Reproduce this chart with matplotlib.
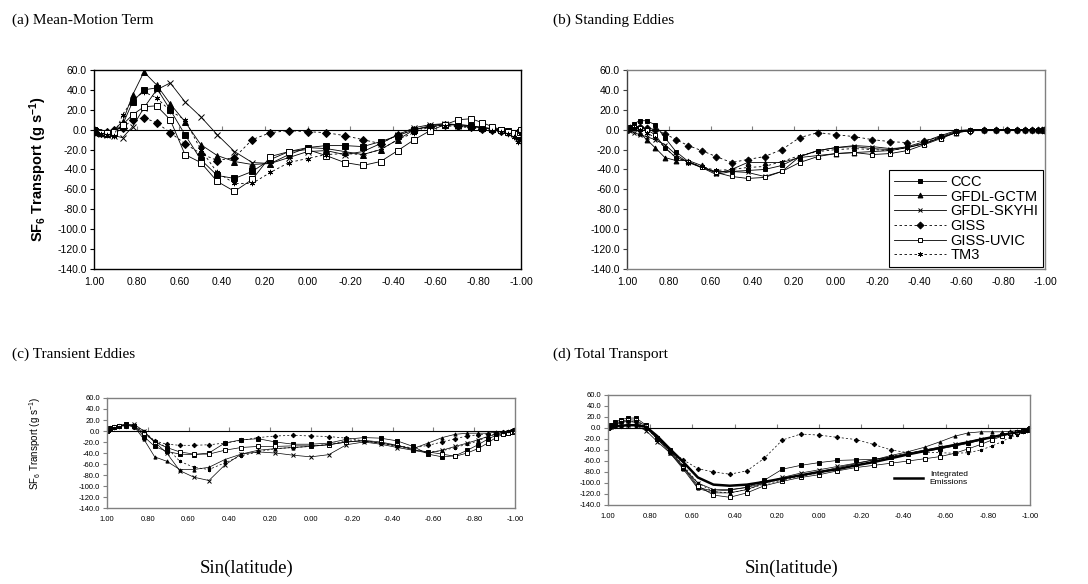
import matplotlib.pyplot as plt

plt.rcParams['font.family'] = ['Liberation Sans', 'DejaVu Sans']
plt.rcParams['axes.unicode_minus'] = False
plt.rcParams['mathtext.default'] = 'regular'

# sin(latitude) grid, 5 degree steps from north pole to south pole
xs = [1.000, 0.996, 0.985, 0.966, 0.940, 0.906, 0.866, 0.819, 0.766, 0.707, 0.643, 0.574,
      0.500, 0.423, 0.342, 0.259, 0.174, 0.087, 0.000, -0.087, -0.174, -0.259, -0.342,
      -0.423, -0.500, -0.574, -0.643, -0.707, -0.766, -0.819, -0.866, -0.906, -0.940,
      -0.966, -0.985, -0.996, -1.000]
xticks = [1.0, 0.8, 0.6, 0.4, 0.2, 0.0, -0.2, -0.4, -0.6, -0.8, -1.0]
yticks = [60, 40, 20, 0, -20, -40, -60, -80, -100, -120, -140]

models = ["CCC", "GFDL-GCTM", "GFDL-SKYHI", "GISS", "GISS-UVIC", "TM3"]

# (a) mean-motion term
ccc_a = [0, -1, -2, -3, -4, -3, 5, 28, 40, 42, 20, -5, -30, -46, -49, -42, -30, -22, -18, -16,
         -16, -17, -12, -6, 0, 3, 5, 5, 4, 2, 1, 0, -1, -3, -5, -3, -1]
gctm_a = [0, -1, -2, -3, -3, 0, 8, 35, 58, 45, 26, 8, -15, -26, -32, -35, -34, -25, -18, -19,
          -22, -25, -20, -10, 0, 4, 6, 5, 4, 2, 1, 0, -1, -3, -6, -4, -1]
skyhi_a = [0, -1, -3, -4, -5, -6, -8, 3, 22, 40, 47, 28, 13, -5, -22, -33, -34, -28, -22, -21,
           -25, -22, -14, -5, 2, 5, 6, 4, 3, 2, 1, 0, -2, -4, -8, -5, -1]
giss_a = [0, -1, -2, -3, -2, 0, 2, 10, 12, 7, -3, -14, -24, -31, -28, -10, -3, -1, -2, -3,
          -6, -10, -14, -5, 0, 3, 5, 4, 3, 1, 0, -1, -2, -4, -6, -4, -1]
uvic_a = [0, -1, -2, -3, -3, -2, 5, 15, 23, 24, 10, -25, -33, -52, -62, -50, -27, -22, -20, -26,
          -33, -36, -32, -21, -10, -1, 5, 10, 11, 7, 3, 0, -2, -3, -4, -2, 0]
tm3_a = [0, -1, -3, -4, -5, -6, 15, 30, 38, 32, 19, 10, -20, -43, -54, -54, -43, -33, -29, -25,
         -24, -25, -20, -10, -3, 3, 4, 3, 2, 0, -1, -2, -4, -7, -12, -9, -3]

# (b) standing eddies
ccc_b = [0, 1, 3, 6, 9, 9, 5, -8, -22, -32, -38, -42, -42, -41, -40, -36, -27, -21, -18, -17,
         -19, -20, -17, -12, -6, -1, 0, 0, 0, 0, 0, 0, 0, 0, 0, 0, 0]
gctm_b = [0, 2, 3, 2, -3, -10, -18, -28, -31, -31, -36, -44, -40, -33, -33, -33, -28, -26, -24, -23,
          -22, -21, -18, -14, -8, -3, 0, 0, 0, 0, 0, 0, 0, 0, 0, 0, 0]
skyhi_b = [0, 0, -1, -3, -5, -7, -10, -15, -25, -33, -38, -45, -42, -43, -47, -42, -27, -21, -18, -16,
           -17, -19, -18, -14, -8, -3, -1, 0, 0, 0, 0, 0, 0, 0, 0, 0, 0]
giss_b = [0, 1, 2, 3, 3, 2, 0, -4, -10, -16, -21, -27, -33, -30, -27, -20, -8, -3, -5, -7,
          -10, -12, -13, -11, -7, -2, -1, 0, 0, 0, 0, 0, 0, 0, 0, 0, 0]
uvic_b = [0, 1, 2, 3, 2, 0, -5, -18, -28, -32, -38, -43, -47, -49, -48, -42, -33, -27, -24, -23,
          -25, -24, -21, -15, -9, -3, -1, 0, 0, 0, 0, 0, 0, 0, 0, 0, 0]
tm3_b = [0, 1, 2, 2, 0, -3, -8, -18, -28, -33, -37, -41, -40, -38, -37, -32, -26, -22, -20, -19,
         -20, -21, -18, -13, -7, -2, 0, 0, 0, 0, 0, 0, 0, 0, 0, 0, 0]

# (c) transient eddies
ccc_c = [0, 2, 5, 8, 10, 12, 10, -10, -28, -37, -42, -43, -40, -22, -16, -14, -20, -24, -24, -22,
         -15, -12, -13, -18, -28, -42, -47, -45, -35, -25, -15, -8, -5, -3, -2, -1, 0]
gctm_c = [0, 2, 5, 8, 10, 11, 8, -15, -47, -55, -70, -70, -66, -52, -42, -35, -32, -30, -28, -25,
          -20, -18, -22, -27, -32, -22, -12, -6, -4, -4, -4, -2, -2, -1, 0, 1, 0]
skyhi_c = [0, 2, 4, 7, 10, 12, 12, 0, -20, -40, -72, -84, -90, -62, -42, -38, -40, -44, -47, -43,
           -25, -20, -24, -30, -35, -40, -35, -28, -22, -16, -10, -6, -3, -1, 0, 1, 0]
giss_c = [0, 2, 5, 8, 10, 10, 8, -5, -18, -24, -26, -26, -25, -22, -17, -12, -9, -8, -9, -10,
          -13, -18, -22, -26, -31, -26, -20, -14, -9, -7, -5, -3, -2, -1, -1, 0, 0]
uvic_c = [0, 2, 4, 7, 9, 10, 9, -3, -20, -30, -38, -42, -42, -35, -30, -28, -28, -27, -27, -25,
          -20, -17, -20, -26, -34, -38, -42, -46, -40, -32, -22, -12, -6, -3, -2, -1, 0]
tm3_c = [0, 2, 4, 6, 8, 10, 10, 0, -18, -30, -55, -66, -70, -58, -45, -38, -32, -30, -28, -24,
         -18, -18, -22, -28, -34, -38, -36, -30, -24, -18, -10, -5, -2, 0, 2, 3, 1]

# (d) total transport
ccc_d = [0, 2, 5, 10, 15, 18, 18, 5, -20, -42, -72, -108, -115, -113, -108, -95, -75, -68, -63, -59,
         -58, -57, -53, -48, -43, -38, -33, -28, -22, -17, -13, -10, -7, -5, -3, -2, 0]
gctm_d = [0, 1, 3, 6, 10, 12, 10, 0, -20, -45, -75, -110, -118, -118, -112, -100, -92, -86, -80, -72,
          -65, -58, -50, -43, -35, -25, -15, -9, -7, -7, -7, -6, -5, -4, -3, -2, -1]
skyhi_d = [0, 1, 2, 3, 4, 5, 4, -5, -25, -45, -72, -100, -112, -112, -108, -100, -90, -82, -76, -70,
           -64, -58, -52, -46, -40, -35, -30, -25, -20, -16, -12, -9, -7, -5, -3, -2, -1]
giss_d = [0, 1, 2, 3, 4, 5, 5, 0, -20, -40, -58, -74, -80, -84, -78, -55, -22, -11, -13, -17,
          -21, -30, -40, -45, -42, -37, -32, -27, -22, -17, -13, -10, -7, -5, -3, -2, 0]
uvic_d = [0, 2, 4, 8, 12, 15, 14, 3, -18, -40, -70, -105, -122, -126, -118, -105, -97, -90, -85, -78,
          -72, -68, -64, -60, -56, -52, -46, -38, -30, -22, -15, -10, -7, -5, -4, -3, -1]
tm3_d = [0, 2, 4, 7, 10, 12, 12, 2, -18, -40, -68, -100, -116, -118, -112, -102, -95, -88, -82, -75,
         -68, -60, -52, -46, -44, -45, -46, -45, -40, -33, -25, -17, -12, -8, -5, -3, -1]
integrated_d = [0, 1, 2, 3, 4, 5, 5, 2, -15, -38, -62, -90, -103, -105, -103, -98, -92, -86, -80, -75,
                -68, -62, -55, -48, -42, -36, -31, -26, -21, -17, -13, -10, -8, -6, -4, -3, -2]

panel_a = [ccc_a, gctm_a, skyhi_a, giss_a, uvic_a, tm3_a]
panel_b = [ccc_b, gctm_b, skyhi_b, giss_b, uvic_b, tm3_b]
panel_c = [ccc_c, gctm_c, skyhi_c, giss_c, uvic_c, tm3_c]
panel_d = [ccc_d, gctm_d, skyhi_d, giss_d, uvic_d, tm3_d]

# marker / line style per model (Excel-like black and white)
markers = ['s', '^', 'x', 'D', 's', (6, 2, 0)]
faces = ['black', 'black', 'black', 'black', 'white', 'black']
lstyles = ['-', '-', '-', (0, (3, 3)), '-', (0, (3, 3))]


def draw_panel(ax, series, ms, lw, fs, frame, left_col):
    for name, ys, mk, fc, ls in zip(models, series, markers, faces, lstyles):
        ax.plot(xs, ys, color='black', lw=lw, ls=ls, marker=mk, ms=ms,
                mfc=fc, mec='black', mew=0.7, label=name)
    ax.set_xlim(1, -1)
    ax.set_ylim(-140, 60)
    ax.set_xticks(xticks)
    ax.set_xticklabels(["%.2f" % t for t in xticks])
    ax.set_yticks(yticks)
    ax.set_yticklabels(["%.1f" % t for t in yticks])
    ax.tick_params(axis='x', length=0, pad=6, labelsize=fs)
    ax.tick_params(axis='y', length=3, width=0.8, color=left_col, labelsize=fs, pad=2)
    for s in ax.spines.values():
        s.set_color(frame)
        s.set_linewidth(1.0)
    ax.spines['left'].set_color(left_col)
    # category axis crossing at zero, with its tick marks only
    zero = ax.secondary_xaxis(0.7)
    zero.set_xticks(xticks)
    zero.set_xticklabels([])
    zero.tick_params(direction='out', length=3, width=0.8, color='#808080')
    zero.spines['bottom'].set_color('#808080')
    zero.spines['bottom'].set_linewidth(0.9)


fig = plt.figure(figsize=(10.88, 5.84), dpi=100)

ax_a = fig.add_axes([0.0864, 0.5394, 0.3925, 0.3408])
draw_panel(ax_a, panel_a, 3.8, 0.6, 7.5, 'black', 'black')

ax_b = fig.add_axes([0.5763, 0.5394, 0.3842, 0.3408])
draw_panel(ax_b, panel_b, 3.5, 0.6, 7.5, '#808080', '#404040')
leg = ax_b.legend(loc='lower right', bbox_to_anchor=(1.0, 0.0), borderaxespad=0.15,
                  fontsize=10.5, handlelength=3.6, labelspacing=0.05, borderpad=0.3,
                  handletextpad=0.3, fancybox=False, edgecolor='black', framealpha=1)
leg.get_frame().set_linewidth(0.8)

ax_c = fig.add_axes([0.0983, 0.1301, 0.375, 0.1884])
draw_panel(ax_c, panel_c, 2.3, 0.5, 5.5, '#808080', '#808080')

ax_d = fig.add_axes([0.5588, 0.1353, 0.3879, 0.1884])
draw_panel(ax_d, panel_d, 2.3, 0.5, 5.5, '#808080', '#808080')
integ, = ax_d.plot(xs, integrated_d, color='black', lw=1.8, label='Integrated\nEmissions')
ax_d.legend(handles=[integ], loc='center left', bbox_to_anchor=(0.66, 0.24), fontsize=6,
            handlelength=3.5, frameon=False, labelspacing=0.1)

# y labels
fig.text(0.035, 0.71, r'SF$_6$ Transport (g s$^{-1}$)', rotation=90, ha='center', va='center',
         fontsize=10.5, fontweight='bold')
fig.text(0.032, 0.241, r'SF$_6$ Transport (g s$^{-1}$)', rotation=90, ha='center', va='center',
         fontsize=7, family=['Liberation Sans Narrow', 'Liberation Sans'])

# panel titles and x labels
serif = ['Liberation Serif', 'DejaVu Serif']
fig.text(0.011, 0.966, '(a) Mean-Motion Term', family=serif, fontsize=11, va='center')
fig.text(0.508, 0.966, '(b) Standing Eddies', family=serif, fontsize=11, va='center')
fig.text(0.011, 0.394, '(c) Transient Eddies', family=serif, fontsize=11, va='center')
fig.text(0.508, 0.394, '(d) Total Transport', family=serif, fontsize=11, va='center')
fig.text(0.227, 0.027, 'Sin(latitude)', family=serif, fontsize=13.5, ha='center', va='center')
fig.text(0.728, 0.027, 'Sin(latitude)', family=serif, fontsize=13.5, ha='center', va='center')

plt.savefig('out.png', dpi=100)
